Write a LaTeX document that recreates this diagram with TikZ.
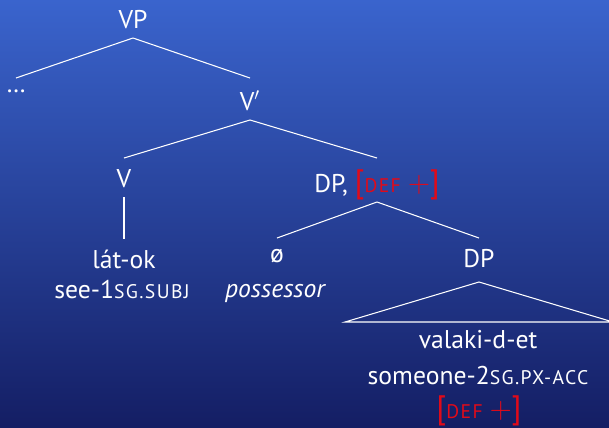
\documentclass[tikz,border=0pt]{standalone}
\usepackage{fontspec}
\setmainfont{PT Sans}
\definecolor{bgtop}{RGB}{58,100,205}
\definecolor{bgbot}{RGB}{20,30,100}
\definecolor{defred}{RGB}{225,10,25}
\newcommand{\fsc}[1]{{\fontsize{11.2}{13}\selectfont\addfontfeatures{LetterSpace=7}\MakeUppercase{#1}}}
\newcommand{\bigbr}[1]{{\fontsize{18.5}{22}\selectfont #1}}
\newcommand{\deffeat}{\textcolor{defred}{\bigbr{[}\fsc{def}\;{\fontsize{19}{22}\selectfont$+$}\bigbr{]}}}
\tikzset{
  tn/.style={anchor=base,inner sep=0pt,outer sep=0pt,text=white,
    text height=0.36cm,text depth=0.08cm},
  br/.style={draw=white,line width=0.6pt}
}
\begin{document}
\fontsize{14.6}{17.5}\selectfont
\begin{tikzpicture}[x=0.02cm,y=-0.02cm]
  \shade[top color=bgtop,bottom color=bgbot] (0,0) rectangle (609,427);
  \useasboundingbox (0,0) rectangle (609,427);

  \node[tn](vp) at (133,28) {VP};
  \node[tn,text height=0.06cm](dots) at (16,92) {\dots};
  \node[tn,text height=0.42cm](vbar) at (250,110) {V$'$};
  \node[tn](v) at (124,187) {V};
  \node[tn,text height=0.46cm](dp) at (377,192) {DP, \deffeat};
  \node[tn](verb) at (124,268) {lát-ok};
  \node[tn](verbgl) at (122,298) {see-1\fsc{sg.subj}};
  \node[tn,text height=0.26cm](null) at (277,262) {ø};
  \node[tn](poss) at (275,297) {\itshape possessor};
  \node[tn](dpb) at (479,267) {DP};
  \node[tn](noun) at (478,348) {valaki-d-et};
  \node[tn](noungl) at (478,384) {someone-2\fsc{sg.px-acc}};
  \node[tn](nounft) at (479,418) {\deffeat};

  \draw[br] ([yshift=-0.12cm]vp.south) -- ([yshift=0.22cm]dots.north);
  \draw[br] ([yshift=-0.12cm]vp.south) -- ([yshift=0.22cm]vbar.north);
  \draw[br] ([yshift=-0.12cm]vbar.south) -- ([yshift=0.22cm]v.north);
  \draw[br] ([yshift=-0.12cm]vbar.south) -- ([yshift=0.22cm]dp.north);
  \draw[br] ([yshift=-0.12cm]v.south) -- ([yshift=0.22cm]verb.north);
  \draw[br] ([yshift=-0.12cm]dp.south) -- ([yshift=0.22cm]null.north);
  \draw[br] ([yshift=-0.12cm]dp.south) -- ([yshift=0.22cm]dpb.north);
  % triangle over the DP
  \draw[br] ([yshift=-0.22cm]dpb.south) -- ++(-134,40) -- ++(268,0) -- cycle;
\end{tikzpicture}
\end{document}
